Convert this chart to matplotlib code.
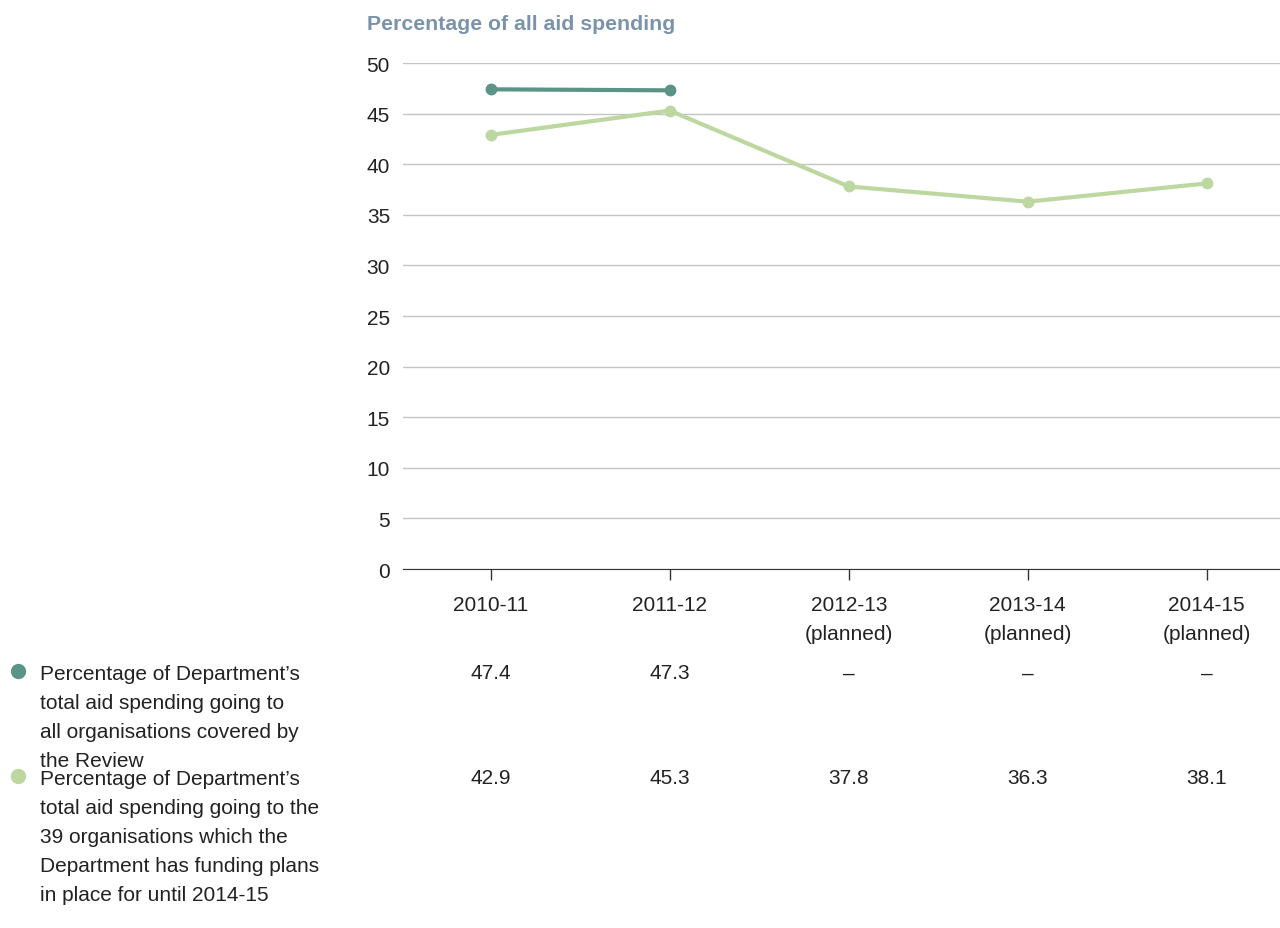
import numpy as np
import matplotlib.pyplot as plt
from matplotlib import transforms
from matplotlib.lines import Line2D

plt.rcParams['font.family'] = ['Liberation Sans', 'DejaVu Sans']

years = ['2010-11', '2011-12', '2012-13\n(planned)', '2013-14\n(planned)', '2014-15\n(planned)']
all_orgs = [47.4, 47.3, np.nan, np.nan, np.nan]
funded_39 = [42.9, 45.3, 37.8, 36.3, 38.1]

labels = [
    "Percentage of Department’s\ntotal aid spending going to\nall organisations covered by\nthe Review",
    "Percentage of Department’s\ntotal aid spending going to the\n39 organisations which the\nDepartment has funding plans\nin place for until 2014-15",
]
colors = ['#5b9486', '#bdd7a0']
series = [all_orgs, funded_39]

fig = plt.figure(figsize=(12.8, 9.29), dpi=100)
ax = fig.add_axes([0.315, 0.3864, 0.685, 0.5447])

x = np.arange(len(years))
for vals, c in zip(series, colors):
    ax.plot(x, vals, color=c, lw=3, marker='o', ms=7.5, solid_capstyle='round')

ax.set_xlim(-0.49, 4.41)
ax.set_ylim(0, 50)
ax.set_yticks(range(0, 51, 5))
ax.set_xticks(x)
ax.set_xticklabels(years, fontsize=15, color='#222222', linespacing=1.67)
ax.grid(axis='y', color='#c4c4c4', lw=1)
ax.set_axisbelow(True)
for s in ['top', 'right', 'left']:
    ax.spines[s].set_visible(False)
ax.spines['bottom'].set_color('#333333')
ax.tick_params(axis='y', length=0, pad=9.5, labelsize=15, labelcolor='#222222')
ax.tick_params(axis='x', direction='out', length=8, width=1, color='#333333', pad=10.5)

fig.text(0.2867, 0.974, 'Percentage of all aid spending', fontsize=15.3,
         fontweight='bold', color='#7b93aa', ha='left', va='center')

# table rows below the chart
trans = transforms.blended_transform_factory(ax.transData, fig.transFigure)
row_y = [1 - 672 / 929, 1 - 777 / 929]
for vals, c, lab, ry in zip(series, colors, labels, row_y):
    fig.add_artist(Line2D([18 / 1280], [ry], transform=fig.transFigure,
                          marker='o', ms=10, color=c, lw=0))
    fig.text(40 / 1280, ry + 0.008, lab, fontsize=15, color='#222222',
             ha='left', va='top', linespacing=1.67)
    for xi, v in zip(x, vals):
        s = '–' if np.isnan(v) else f'{v:.1f}'
        ax.text(xi, ry - 0.002, s, transform=trans, ha='center', va='center',
                fontsize=15, color='#222222')

fig.savefig('out.png', dpi=100)
